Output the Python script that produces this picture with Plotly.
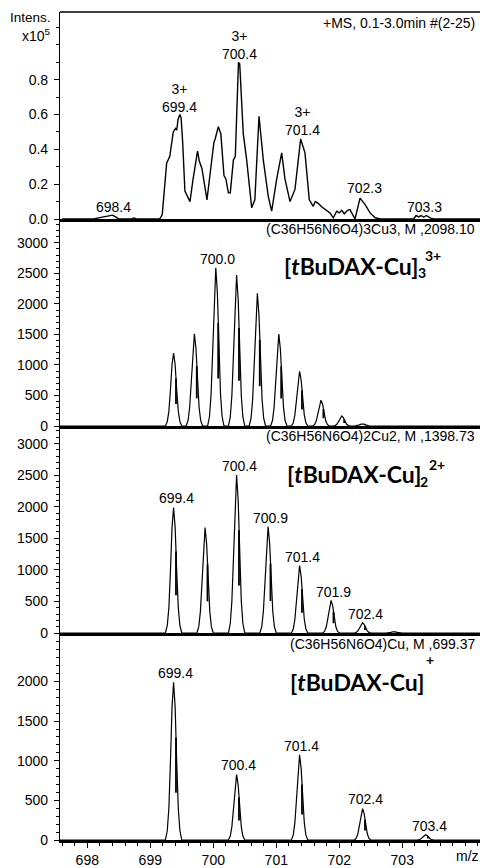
import plotly.graph_objects as go
from plotly.subplots import make_subplots

# ---------------- data ----------------
# Experimental +MS spectrum, intensity in units of 1e5
EXP_MZ = [697.60, 698.10, 698.20, 698.28, 698.36, 698.40, 698.45, 698.50, 698.70, 698.74, 698.78,
          699.15, 699.19, 699.26, 699.31, 699.365, 699.40, 699.42, 699.44, 699.47, 699.49, 699.515,
          699.55, 699.59, 699.63, 699.68, 699.75, 699.78, 699.82, 699.86, 699.90, 699.96, 700.01,
          700.03, 700.08, 700.12, 700.17, 700.20, 700.24, 700.27, 700.32, 700.35, 700.40, 700.42,
          700.476, 700.53, 700.61, 700.66, 700.726, 700.794, 700.873, 700.927, 701.007, 701.086,
          701.138, 701.218, 701.297, 701.387, 701.456, 701.524, 701.587, 701.62, 701.667, 701.72,
          701.773, 701.853, 701.905, 701.959, 702.00, 702.04, 702.08, 702.13, 702.17, 702.25,
          702.33, 702.41, 702.49, 702.57, 702.65, 703.18, 703.22, 703.26, 703.30, 703.34, 703.38,
          703.45, 703.50, 704.25]
EXP_INT = [0.0, 0.0, 0.008, 0.012, 0.018, 0.022, 0.012, 0.0, 0.0, 0.006, 0.0,
           0.0, 0.026, 0.32, 0.36, 0.50, 0.52, 0.51, 0.57, 0.60, 0.58, 0.435,
           0.16, 0.13, 0.10, 0.23, 0.39, 0.33, 0.29, 0.20, 0.11, 0.29, 0.44,
           0.46, 0.53, 0.49, 0.25, 0.23, 0.15, 0.15, 0.34, 0.36, 0.90, 0.89,
           0.49, 0.34, 0.064, 0.11, 0.59, 0.34, 0.13, 0.045, 0.23, 0.38,
           0.23, 0.10, 0.17, 0.46, 0.38, 0.11, 0.073, 0.10, 0.09, 0.07,
           0.054, 0.035, 0.007, 0.045, 0.035, 0.05, 0.03, 0.05, 0.054, 0.0,
           0.12, 0.083, 0.035, 0.007, 0.0, 0.0, 0.02, 0.012, 0.02, 0.01, 0.02,
           0.005, 0.0, 0.0]

# Simulated isotope patterns (centroid m/z and intensity)
SIM3_MZ = [699.37, 699.70, 700.04, 700.37, 700.70, 701.04, 701.37, 701.71, 702.04, 702.37]
SIM3_INT = [1195, 1510, 2593, 2472, 2173, 1505, 897, 424, 163, 37]

SIM2_MZ = [699.37, 699.87, 700.37, 700.87, 701.37, 701.87, 702.37, 702.87]
SIM2_INT = [1987, 1672, 2503, 1688, 1068, 516, 162, 20]

SIM1_MZ = [699.37, 700.37, 701.37, 702.37, 703.37]
SIM1_INT = [1990, 825, 1075, 395, 66]

# Peak profile (m/z offset, relative height)
SHAPE_DX = [-0.13, -0.10, -0.075, -0.05, -0.025, 0.0, 0.025, 0.05, 0.075, 0.10, 0.13]
SHAPE_REL = [0.0, 0.06, 0.2, 0.49, 0.84, 1.0, 0.84, 0.49, 0.2, 0.06, 0.0]

X_TICKS = [698, 699, 700, 701, 702, 703]

# Peak labels: (text, m/z, intensity)
LABELS1 = [("698.4", 698.42, 0.07), ("3+<br>699.4", 699.47, 0.693), ("3+<br>700.4", 700.424, 1.002),
           ("3+<br>701.4", 701.42, 0.562), ("702.3", 702.40, 0.178), ("703.3", 703.35, 0.07)]
LABELS2 = [("700.0", 700.07, 2733)]
LABELS3 = [("699.4", 699.416, 2133), ("700.4", 700.41, 2644), ("700.9", 700.913, 1829),
           ("701.4", 701.416, 1198), ("701.9", 701.913, 646), ("702.4", 702.413, 295)]
LABELS4 = [("699.4", 699.408, 2104), ("700.4", 700.40, 942), ("701.4", 701.397, 1184),
           ("702.4", 702.413, 515), ("703.4", 703.43, 180)]

FORMULAS = ["(C36H56N6O4)3Cu3, M ,2098.10", "(C36H56N6O4)2Cu2, M ,1398.73", "(C36H56N6O4)Cu, M ,699.37"]


def profile(centers, heights):
    xs, ys = [697.5], [0]
    for c, h in zip(centers, heights):
        for dx, r in zip(SHAPE_DX, SHAPE_REL):
            xs.append(c + dx)
            ys.append(h * r)
    xs.append(704.3)
    ys.append(0)
    return xs, ys


def sticks(centers, heights):
    xs, ys = [], []
    for c, h in zip(centers, heights):
        xs += [c + 0.038, c + 0.038, None]
        ys += [0.3 * h, 0.65 * h, None]
    return xs, ys


FONT = "Liberation Sans, Arial, sans-serif"
TITLE_FONT = "Lato, Open Sans, sans-serif"

fig = make_subplots(rows=4, cols=1, shared_xaxes=True, vertical_spacing=0)

fig.add_trace(go.Scatter(x=EXP_MZ, y=EXP_INT, mode="lines",
                         line=dict(color="black", width=1.4), showlegend=False), row=1, col=1)

for r, (mz, it) in zip([2, 3, 4], [(SIM3_MZ, SIM3_INT), (SIM2_MZ, SIM2_INT), (SIM1_MZ, SIM1_INT)]):
    px_, py_ = profile(mz, it)
    fig.add_trace(go.Scatter(x=px_, y=py_, mode="lines",
                             line=dict(color="black", width=1.2), showlegend=False), row=r, col=1)
    sx, sy = sticks(mz, it)
    fig.add_trace(go.Scatter(x=sx, y=sy, mode="lines",
                             line=dict(color="black", width=1.8), showlegend=False), row=r, col=1)

XRANGE = [697.567, 704.234]
for r in range(1, 5):
    fig.update_xaxes(range=XRANGE, showline=True, linewidth=2.5, linecolor="black",
                     showgrid=False, zeroline=False, row=r, col=1)
fig.update_xaxes(ticks="", showticklabels=False, row=1, col=1)
fig.update_xaxes(ticks="", showticklabels=False, row=2, col=1)
fig.update_xaxes(ticks="", showticklabels=False, row=3, col=1)
fig.update_xaxes(ticks="outside", tickvals=X_TICKS, ticklen=5, tickwidth=1, tickcolor="black",
                 showticklabels=True, tickfont=dict(family=FONT, size=14, color="black"),
                 minor=dict(ticks="outside", dtick=0.2, tick0=698, ticklen=3, tickcolor="black"),
                 row=4, col=1)

ycommon = dict(showline=True, linewidth=1.2, linecolor="black", showgrid=False, zeroline=False,
               ticks="outside", ticklen=5, tickcolor="black", ticklabelstandoff=3,
               tickfont=dict(family=FONT, size=14, color="black"))
fig.update_yaxes(range=[0, 1.189], tickvals=[0, 0.2, 0.4, 0.6, 0.8],
                 ticktext=["0.0", "0.2", "0.4", "0.6", "0.8"],
                 minor=dict(ticks="outside", dtick=0.1, tick0=0, ticklen=3, tickcolor="black"),
                 row=1, col=1, **ycommon)
fig.update_yaxes(range=[0, 3391], tickvals=[0, 500, 1000, 1500, 2000, 2500, 3000],
                 minor=dict(ticks="outside", dtick=100, tick0=0, ticklen=3, tickcolor="black"),
                 row=2, col=1, **ycommon)
fig.update_yaxes(range=[0, 3279], tickvals=[0, 500, 1000, 1500, 2000, 2500, 3000],
                 minor=dict(ticks="outside", dtick=100, tick0=0, ticklen=3, tickcolor="black"),
                 row=3, col=1, **ycommon)
fig.update_yaxes(range=[0, 2611], tickvals=[0, 500, 1000, 1500, 2000],
                 minor=dict(ticks="outside", dtick=100, tick0=0, ticklen=3, tickcolor="black"),
                 row=4, col=1, **ycommon)

lab_font = dict(family=FONT, size=14, color="black")
for r, labs in zip([1, 2, 3, 4], [LABELS1, LABELS2, LABELS3, LABELS4]):
    for t, x, y in labs:
        fig.add_annotation(text=t, x=x, y=y, showarrow=False, xanchor="center", yanchor="middle",
                           font=lab_font, align="center", row=r, col=1)

# page-pixel -> paper helpers (plot area on page: 60..480 x 12..844)
def pxx(x):
    return (x - 60) / 420


def pyy(y):
    return (844 - y) / 832


def ann(text, x, y, xanchor="center", size=14, family=FONT):
    fig.add_annotation(text=text, x=pxx(x), y=pyy(y), xref="paper", yref="paper", showarrow=False,
                       xanchor=xanchor, yanchor="middle",
                       font=dict(family=family, size=size, color="black"))


ann("Intens.", 30, 18, size=13.5)
ann("x10<sup>5</sup>", 53, 35, xanchor="right", size=14)
ann("+MS, 0.1-3.0min #(2-25)", 477, 23, xanchor="right")
ann(FORMULAS[0], 477, 230.5, xanchor="right")
ann(FORMULAS[1], 477, 438.5, xanchor="right")
ann(FORMULAS[2], 477, 647, xanchor="right")
ann("m/z", 467, 860)

# species titles
ann("<b>[<i>t</i>BuDAX-Cu]</b>", 420, 267, xanchor="right", size=23, family=TITLE_FONT)
ann("<b>3</b>", 416, 274, xanchor="left", size=14, family=TITLE_FONT)
ann("<b>3+</b>", 423, 257, xanchor="left", size=14, family=TITLE_FONT)

ann("<b>[<i>t</i>BuDAX-Cu]</b>", 423, 476, xanchor="right", size=23, family=TITLE_FONT)
ann("<b>2</b>", 418, 484, xanchor="left", size=14, family=TITLE_FONT)
ann("<b>2+</b>", 427, 467, xanchor="left", size=14, family=TITLE_FONT)

ann("<b>[<i>t</i>BuDAX-Cu]</b>", 426, 685, xanchor="right", size=23, family=TITLE_FONT)
ann("<b>+</b>", 424, 663, xanchor="left", size=14, family=TITLE_FONT)

# top frame line
fig.add_shape(type="line", xref="paper", yref="paper", x0=0, x1=1, y0=1, y1=1,
              line=dict(color="black", width=1.5))

fig.update_layout(width=480, height=868, margin=dict(l=60, r=0, t=12, b=24),
                  plot_bgcolor="white", paper_bgcolor="white", showlegend=False,
                  font=dict(family=FONT, size=14, color="black"))

# remove the default page margin so the 480x868 figure fills the window exactly
fig.write_html("out.html", config={"displayModeBar": False},
               post_script="document.body.style.margin='0';document.body.style.overflow='hidden';")
